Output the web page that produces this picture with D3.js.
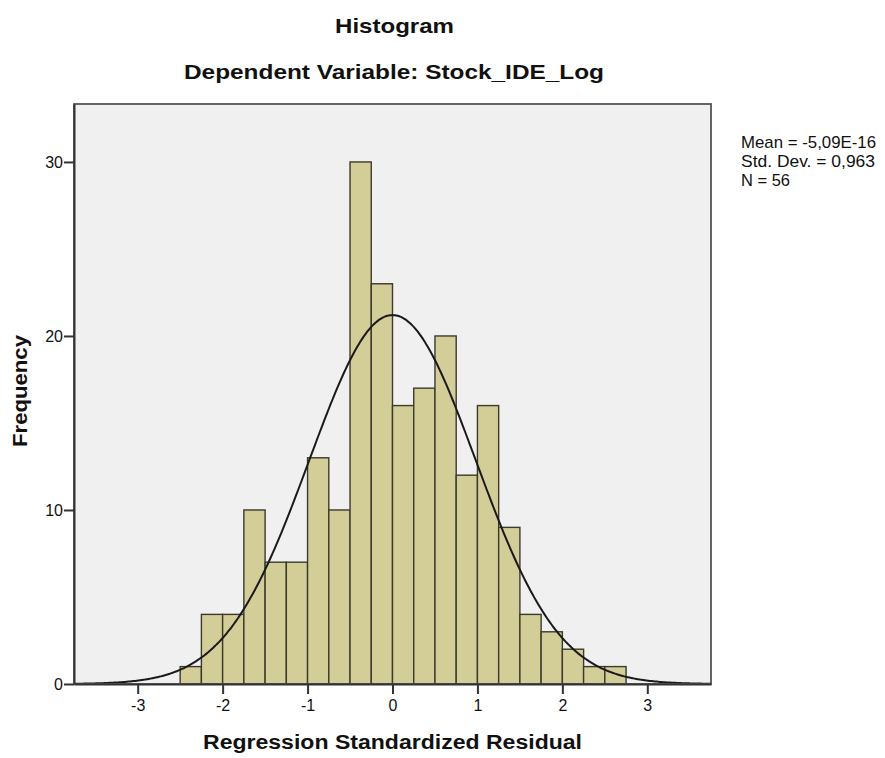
<!DOCTYPE html>
<html>
<head>
<meta charset="utf-8">
<script src="https://cdn.jsdelivr.net/npm/d3@7"></script>
<style>
  html, body { margin: 0; padding: 0; background: #ffffff; }
  svg { display: block; }
  text { font-family: "Liberation Sans", Arial, sans-serif; fill: #111; }
</style>
</head>
<body>
<svg id="chart" width="885" height="758"></svg>
<script>
// ---- data ----
const binLower = [-2.5, -2.25, -2.0, -1.75, -1.5, -1.25, -1.0, -0.75, -0.5, -0.25,
                  0.0, 0.25, 0.5, 0.75, 1.0, 1.25, 1.5, 1.75, 2.0, 2.25, 2.5];
const binWidth = 0.25;
const counts = [1, 4, 4, 10, 7, 7, 13, 10, 30, 23, 16, 17, 20, 12, 16, 9, 4, 3, 2, 1, 1];
const xTicks = [-3, -2, -1, 0, 1, 2, 3];
const yTicks = [0, 10, 20, 30];
const statsLines = ["Mean = -5,09E-16", "Std. Dev. = 0,963", "N = 56"];
const curveMean = 0;
const curveSD = 0.98;
const curvePeak = 21.2;
const titleText = "Histogram";
const subtitleText = "Dependent Variable: Stock_IDE_Log";
const xTitle = "Regression Standardized Residual";
const yTitle = "Frequency";

// ---- layout ----
const plot = { left: 74, right: 711, top: 104, bottom: 684 };
const svg = d3.select("#chart");

const x = d3.scaleLinear().domain([-3.75, 3.75]).range([plot.left, plot.right]);
const y = d3.scaleLinear().domain([0, 33.33]).range([plot.bottom, plot.top]);

// plot background
svg.append("rect")
  .attr("x", plot.left).attr("y", plot.top)
  .attr("width", plot.right - plot.left).attr("height", plot.bottom - plot.top)
  .attr("fill", "#f0f0f0");

// bars
svg.append("g").selectAll("rect")
  .data(counts.map((c, i) => ({ x0: binLower[i], x1: binLower[i] + binWidth, c })))
  .join("rect")
  .attr("x", d => x(d.x0))
  .attr("y", d => y(d.c))
  .attr("width", d => x(d.x1) - x(d.x0))
  .attr("height", d => y(0) - y(d.c))
  .attr("fill", "#d3cd97")
  .attr("stroke", "#3c3a2c")
  .attr("stroke-width", 1.4);

// normal curve
const pts = d3.range(-3.75, 3.7501, 0.02).map(v => [v, curvePeak * Math.exp(-Math.pow(v - curveMean, 2) / (2 * curveSD * curveSD))]);
svg.append("path")
  .datum(pts)
  .attr("d", d3.line().x(d => x(d[0])).y(d => y(d[1])).curve(d3.curveBasis))
  .attr("fill", "none")
  .attr("stroke", "#1a1a1a")
  .attr("stroke-width", 2);

// frame
svg.append("rect")
  .attr("x", plot.left).attr("y", plot.top)
  .attr("width", plot.right - plot.left).attr("height", plot.bottom - plot.top)
  .attr("fill", "none")
  .attr("stroke", "#555")
  .attr("stroke-width", 1.8);

// axes
const fmt = d => String(d);
const xAxis = svg.append("g")
  .attr("transform", `translate(0,${plot.bottom})`)
  .call(d3.axisBottom(x).tickValues(xTicks).tickSizeInner(10).tickSizeOuter(0).tickPadding(5).tickFormat(fmt));
const yAxis = svg.append("g")
  .attr("transform", `translate(${plot.left},0)`)
  .call(d3.axisLeft(y).tickValues(yTicks).tickSizeInner(10).tickSizeOuter(0).tickPadding(2).tickFormat(fmt));
[xAxis, yAxis].forEach(a => {
  a.attr("font-size", null).attr("font-family", null);
  a.select(".domain").attr("stroke", "#333").attr("stroke-width", 2);
  a.selectAll(".tick line").attr("stroke", "#333").attr("stroke-width", 2);
  a.selectAll(".tick text")
    .style("font-family", "'Liberation Sans', Arial, sans-serif")
    .style("font-size", "16px").attr("fill", "#222");
});
xAxis.selectAll(".tick text").attr("dy", "0.71em").attr("y", 16);
yAxis.selectAll(".tick text").attr("x", -11);

// titles
svg.append("text").attr("x", 394.5).attr("y", 33)
  .attr("text-anchor", "middle").attr("font-size", 21).attr("font-weight", "bold")
  .attr("textLength", 119).attr("lengthAdjust", "spacingAndGlyphs")
  .text(titleText);
svg.append("text").attr("x", 394).attr("y", 79)
  .attr("text-anchor", "middle").attr("font-size", 21).attr("font-weight", "bold")
  .attr("textLength", 420).attr("lengthAdjust", "spacingAndGlyphs")
  .text(subtitleText);
svg.append("text").attr("x", 392.5).attr("y", 749)
  .attr("text-anchor", "middle").attr("font-size", 20).attr("font-weight", "bold")
  .attr("textLength", 379).attr("lengthAdjust", "spacingAndGlyphs")
  .text(xTitle);
svg.append("text").attr("transform", "translate(27,391) rotate(-90)")
  .attr("text-anchor", "middle").attr("font-size", 20).attr("font-weight", "bold")
  .attr("textLength", 112).attr("lengthAdjust", "spacingAndGlyphs")
  .text(yTitle);

// stats box text
const statWidths = [135, 134, 49];
svg.append("g").selectAll("text")
  .data(statsLines)
  .join("text")
  .attr("x", 741)
  .attr("y", (d, i) => 148 + i * 18.8)
  .attr("font-size", 17)
  .attr("fill", "#222")
  .attr("textLength", (d, i) => statWidths[i])
  .attr("lengthAdjust", "spacingAndGlyphs")
  .text(d => d);
</script>
</body>
</html>
